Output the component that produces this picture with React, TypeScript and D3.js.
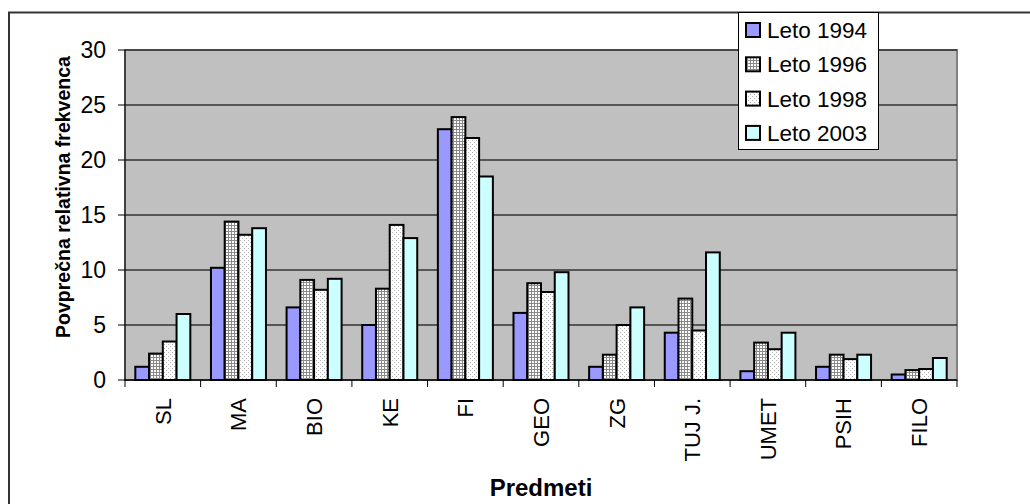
import React from "react";
import * as d3 from "d3";

const categories = ["SL", "MA", "BIO", "KE", "FI", "GEO", "ZG", "TUJ J.", "UMET", "PSIH", "FILO"];
const seriesNames = ["Leto 1994", "Leto 1996", "Leto 1998", "Leto 2003"];
const leto1994 = [1.2, 10.2, 6.6, 5.0, 22.8, 6.1, 1.2, 4.3, 0.8, 1.2, 0.5];
const leto1996 = [2.4, 14.4, 9.1, 8.3, 23.9, 8.8, 2.3, 7.4, 3.4, 2.3, 0.9];
const leto1998 = [3.5, 13.2, 8.2, 14.1, 22.0, 8.0, 5.0, 4.5, 2.8, 1.9, 1.0];
const leto2003 = [6.0, 13.8, 9.2, 12.9, 18.5, 9.8, 6.6, 11.6, 4.3, 2.3, 2.0];
const yTicks = [0, 5, 10, 15, 20, 25, 30];

const series = [leto1994, leto1996, leto1998, leto2003];
const fills = ["#9999FF", "url(#pGrid)", "url(#pDots)", "#CCFFFF"];

export default function App() {
  const left = 125, right = 957, top = 50, bottom = 380;
  const x = d3.scaleBand<string>().domain(categories).range([left, right]).paddingInner(0).paddingOuter(0);
  const y = d3.scaleLinear().domain([0, 30]).range([bottom, top]);
  const bw = x.bandwidth() / 5.5;
  const font = "Liberation Sans, Arial, sans-serif";

  return (
    <svg width={1030} height={504} style={{ position: "absolute", left: 0, top: 0, background: "#fff" }} fontFamily={font}>
      <defs>
        <pattern id="pGrid" width={3} height={3} patternUnits="userSpaceOnUse">
          <rect width={3} height={3} fill="#ffffff" />
          <rect width={3} height={1} fill="#8a8a8a" />
          <rect width={1} height={3} fill="#8a8a8a" />
        </pattern>
        <pattern id="pDots" width={4} height={4} patternUnits="userSpaceOnUse">
          <rect width={4} height={4} fill="#ffffff" />
          <rect x={0} y={0} width={1} height={1} fill="#b0b0b0" />
          <rect x={2} y={2} width={1} height={1} fill="#b0b0b0" />
        </pattern>
      </defs>
      {/* outer border */}
      <path d="M9,520 L9,12.5 L1040,12.5" fill="none" stroke="#333" strokeWidth={2} />

      {/* plot area */}
      <rect x={left} y={top} width={right - left} height={bottom - top} fill="#C0C0C0" stroke="#808080" strokeWidth={2} />
      {yTicks.filter((t) => t > 0).map((t) => (
        <line key={t} x1={left} x2={right} y1={y(t)} y2={y(t)} stroke="#333" strokeWidth={1.5} />
      ))}

      {/* bars */}
      {categories.map((c, i) => (
        <g key={c}>
          {series.map((s, j) => (
            <rect
              key={j}
              x={(x(c) as number) + bw * 0.75 + j * bw}
              y={y(s[i])}
              width={bw}
              height={bottom - y(s[i])}
              fill={fills[j]}
              stroke="#000"
              strokeWidth={2}
            />
          ))}
        </g>
      ))}

      {/* axes */}
      <line x1={left} x2={left} y1={top} y2={bottom} stroke="#000" strokeWidth={1} />
      <line x1={left} x2={right} y1={bottom} y2={bottom} stroke="#000" strokeWidth={1.5} />
      {yTicks.map((t) => (
        <g key={t}>
          <line x1={left - 7} x2={left} y1={y(t)} y2={y(t)} stroke="#000" />
          <text x={106} y={y(t)} dy="0.36em" textAnchor="end" fontSize={23}>{t}</text>
        </g>
      ))}
      {categories.map((c, i) => (
        <line key={"t" + i} x1={x(c) as number} x2={x(c) as number} y1={bottom} y2={bottom + 7} stroke="#000" />
      ))}
      <line x1={right} x2={right} y1={bottom} y2={bottom + 7} stroke="#000" />
      {categories.map((c) => {
        const cx = (x(c) as number) + x.bandwidth() / 2;
        return (
          <text key={"l" + c} transform={`translate(${cx},398) rotate(-90)`} textAnchor="end" dy="0.36em" fontSize={22}>{c}</text>
        );
      })}

      {/* axis titles */}
      <text x={541} y={496} textAnchor="middle" fontSize={24} fontWeight="bold">Predmeti</text>
      <text transform="translate(70,197) rotate(-90)" textAnchor="middle" fontSize={19.5} fontWeight="bold">Povprečna relativna frekvenca</text>

      {/* legend */}
      <rect x={738.5} y={12.5} width={140} height={137} fill="#fff" stroke="#000" strokeWidth={1} />
      {seriesNames.map((n, j) => {
        const cy = 30 + j * 34.3;
        return (
          <g key={n}>
            <rect x={746} y={cy - 7} width={14} height={14} fill={fills[j]} stroke="#000" strokeWidth={2} />
            <text x={767} y={cy} dy="0.36em" fontSize={22.5}>{n}</text>
          </g>
        );
      })}
    </svg>
  );
}
